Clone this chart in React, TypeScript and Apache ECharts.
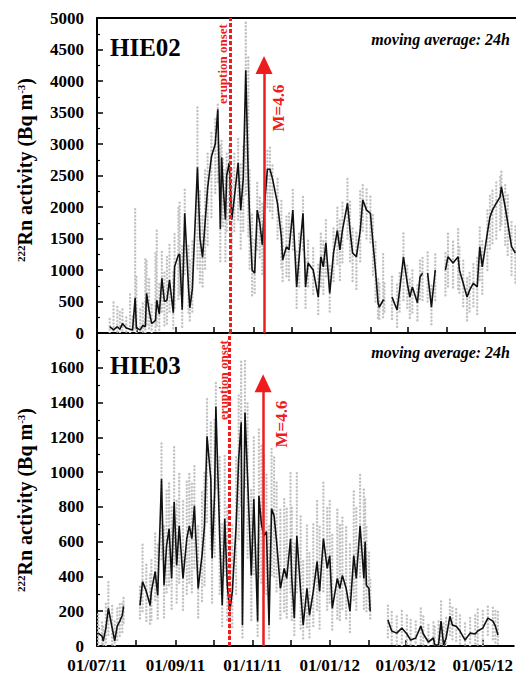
import React, { useEffect, useRef } from 'react';
import * as echarts from 'echarts';

// ---- time frame: the x axis counts days from 1 July 2011 ---------------
const DAY = 86400000;
const START = Date.UTC(2011, 6, 1);
const END_DAY = 329.5;

// sampling days are counted from 1 July 2011; null marks a data gap
// HIE02: 24h moving average and spread of hourly values (Bq m-3)
const hie02Day = [10,13,16,18,20,23,26,28,30,31,34,36,38,39,41,43,46,47,49,51,53,55,57,60,61,64,65,67,69,72,73,75,79,81,83,85,87,90,93,95,97,98,99,101,102,104,106,108,111,113,115,117,119,120,122,124,126,128,130,132,134,136,138,142,145,146,149,151,154,157,159,162,164,166,170,174,176,178,180,183,186,189,191,193,197,199,201,204,207,209,212,215,217,219,221,222,225,226,228,232,236,238,241,244,246,248,252,254,256,258,260,263,266,270,274,276,280,284,285,288,291,293,296,299,301,303,307,309,311,314,317,318,321,323,326,329];
const hie02Avg = [100,50,100,60,150,80,60,50,560,80,50,120,100,630,350,150,200,520,300,870,500,520,840,320,1050,1240,1250,370,1900,700,400,700,2630,1500,1200,1750,2300,2800,3000,3550,1650,2790,2400,1800,2500,2700,1800,2150,2700,1950,2450,4170,2450,1850,1000,950,1950,1750,1400,2100,2600,2600,2450,2050,1520,1160,1370,1320,1950,730,1210,1900,730,1110,1000,570,1210,1050,1430,630,1270,1630,1320,1630,2060,1630,1270,1210,1630,2110,1950,1900,1430,1000,480,410,520,520,null,570,365,680,1210,790,570,730,480,890,950,null,950,410,1000,null,1000,1210,1110,1210,1000,790,570,680,790,730,1370,1050,1590,1840,1950,2060,2160,2320,2000,1750,1370,1270];
const hie02Lo = [0,0,0,0,0,0,0,0,50,0,0,0,0,100,50,0,0,100,50,300,100,150,300,50,400,500,600,100,900,300,200,300,1000,800,700,1000,1400,1800,2200,2400,1100,1800,1700,1100,1600,1800,1000,1600,1800,1300,1600,2200,1500,1000,600,600,1300,1200,900,1500,2000,1900,1800,1500,1000,800,900,800,1300,400,700,1300,400,700,600,300,700,600,900,300,800,1100,800,1100,1500,1100,800,700,1100,1600,1500,1400,900,500,200,200,250,300,null,200,100,300,500,400,200,300,200,500,500,null,500,100,500,null,600,700,700,700,600,400,200,300,400,300,800,600,1000,1300,1400,1500,1600,1700,1400,1200,900,800];
const hie02Hi = [250,500,450,350,400,300,620,300,1980,900,400,500,1200,1150,900,450,1300,1670,800,1300,1000,1250,1400,1000,1600,2000,2100,1400,2300,1400,1200,1500,3600,2300,1900,2600,2900,3200,3400,3650,3000,3100,2800,2600,2900,3000,2600,2900,3100,2700,3000,4950,4400,2600,1900,1500,2400,2200,2100,2500,2900,2950,2700,2500,2100,1700,1900,1900,2300,1300,1600,2200,1200,1500,1400,1100,1600,1500,1800,1100,1700,2000,1800,2100,2500,2100,1700,1600,2300,2400,2300,2200,1900,1500,900,800,1300,800,null,900,800,1000,1600,1100,900,1000,800,1200,1200,null,1300,800,1300,null,1300,1600,1500,1700,1400,1200,900,1000,1100,1200,1700,1500,2000,2200,2300,2400,2500,2600,2400,2200,1800,1700];

// HIE03: 24h moving average and spread of hourly values (Bq m-3)
const hie03Day = [1,4,5,7,9,12,14,16,18,20,21,27,34,36,39,42,43,46,48,51,53,55,57,59,61,63,65,68,71,73,75,77,80,83,85,87,90,91,93,94,97,99,101,103,105,107,110,112,114,115,117,119,122,124,127,128,130,132,134,136,138,140,142,145,148,150,153,154,156,158,161,163,166,168,171,174,176,179,182,184,186,190,192,194,197,200,203,205,208,211,212,213,215,216,222,230,233,237,241,245,248,252,256,258,262,266,267,270,272,274,276,279,281,284,287,291,295,299,301,305,309,313,315,317];
const hie03Avg = [74,57,29,103,217,103,29,114,143,177,228,null,234,371,314,234,314,428,291,960,349,577,674,389,829,463,691,389,617,691,617,806,331,520,691,1206,960,503,886,1377,634,234,731,349,200,314,691,1074,1286,120,1343,977,406,846,143,863,700,634,657,120,789,749,600,331,446,389,617,389,160,634,314,120,331,177,314,486,314,617,446,520,217,389,331,406,331,200,520,389,691,389,600,349,331,200,null,149,86,74,103,69,34,46,114,69,23,46,6,6,143,6,46,171,120,114,86,34,74,69,86,103,160,143,114,63];
const hie03Lo = [0,0,0,0,50,0,0,20,50,80,120,null,150,200,130,120,150,250,150,500,150,300,350,200,450,250,350,200,300,350,300,450,150,250,350,700,550,250,500,900,300,100,400,150,50,100,300,600,800,50,900,500,150,400,50,400,350,300,300,30,400,400,300,150,200,150,300,150,50,300,100,30,100,50,100,200,100,300,200,250,80,150,150,200,150,80,250,200,400,200,350,200,200,150,null,50,0,0,0,0,0,0,0,0,0,0,0,0,0,0,0,50,30,30,0,0,0,0,0,0,50,30,20,0];
const hie03Hi = [200,150,120,250,370,250,150,230,250,250,280,null,350,600,480,420,500,650,600,1170,700,900,950,800,1150,850,1000,850,950,1000,950,1050,700,900,1000,1430,1300,850,1300,1520,1100,700,1100,800,600,700,1100,1450,1640,800,1640,1400,900,1200,600,1250,1150,1100,1000,700,1150,1100,950,800,850,800,1000,800,600,1000,750,500,700,550,700,850,700,950,800,850,650,800,700,750,700,600,900,800,1000,900,850,700,550,400,null,250,200,180,220,180,150,160,230,170,140,150,120,160,260,130,180,270,230,220,190,140,170,180,210,220,230,230,220,200];

// axis ticks (monthly) and labelled dates (every second month)
const tickDates = ['2011-07-01','2011-08-01','2011-09-01','2011-10-01','2011-11-01','2011-12-01','2012-01-01','2012-02-01','2012-03-01','2012-04-01','2012-05-01'];
const labelDates = ['2011-07-01','2011-09-01','2011-11-01','2012-01-01','2012-03-01','2012-05-01'];

// events
const eruptionOnset = '2011-10-13T12:00:00Z';
const quakeM46 = '2011-11-09T08:00:00Z';
const arrowTopHie02 = 4254;
const arrowTopHie03 = 1511;

const FONT = '"Liberation Serif", "Times New Roman", serif';
const RED = '#ee1c1c';
const GRAY = '#c2c2c2';

const ts = (s: string) => Date.parse(s.length === 10 ? s + 'T00:00:00Z' : s);
const dayOf = (s: string) => (ts(s) - START) / DAY;
const pad = (n: number) => (n < 10 ? '0' : '') + n;
const fmtDay = (v: number) => {
  const d = new Date(START + Math.round(v) * DAY);
  return pad(d.getUTCDate()) + '/' + pad(d.getUTCMonth() + 1) + '/' + pad(d.getUTCFullYear() % 100);
};

const lineData = (days: number[], avg: (number | null)[]) =>
  days.map((d, i) => [d, avg[i] === null ? '-' : avg[i]]);
const spreadData = (days: number[], lo: (number | null)[], hi: (number | null)[]) =>
  days
    .map((d, i) => [d, lo[i], hi[i]])
    .filter((r) => r[1] !== null && r[2] !== null);

// hourly values of each sampling day, drawn as a column of grey dots;
// the dash phase alternates between neighbouring columns
const renderSpread = (params: any, api: any) => {
  const t = api.value(0);
  const p1 = api.coord([t, api.value(1)]);
  const p2 = api.coord([t, api.value(2)]);
  return {
    type: 'line',
    silent: true,
    shape: { x1: p1[0], y1: p1[1], x2: p2[0], y2: p2[1] },
    style: {
      stroke: GRAY,
      lineWidth: 2.4,
      lineDash: [0.1, 3.4],
      lineDashOffset: (params.dataIndex % 3) * 1.15,
      lineCap: 'round',
    },
  };
};

const axisLabelStyle = { color: '#000', fontFamily: FONT, fontWeight: 'bold' as const, fontSize: 17 };
const axisLineStyle = { show: true, onZero: false, lineStyle: { color: '#000', width: 2 } };

const dayAxisBase = {
  type: 'value' as const,
  min: 0,
  max: END_DAY,
  splitLine: { show: false },
  axisLine: axisLineStyle,
  axisTick: {
    show: true,
    inside: true,
    length: 6,
    customValues: tickDates.map(dayOf),
    lineStyle: { color: '#000', width: 1.5 },
  },
};

const markers = (arrowTop: number) => ({
  silent: true,
  symbol: 'none',
  animation: false,
  label: { show: false },
  emphasis: { disabled: true },
  lineStyle: { color: RED, width: 2.5, type: 'solid' },
  data: [
    { xAxis: dayOf(eruptionOnset), lineStyle: { color: RED, width: 3, type: [4, 2] } },
    [
      { coord: [dayOf(quakeM46), 0], symbol: 'none', lineStyle: { color: RED, width: 2.5, type: 'solid' } },
      { coord: [dayOf(quakeM46), arrowTop], symbol: 'triangle', symbolSize: [17, 18] },
    ],
  ],
});

const yTitle = (y: number) => ({
  type: 'text',
  x: 25,
  y,
  rotation: Math.PI / 2,
  style: {
    text: '{s|222}Rn activity (Bq m{s|-3})',
    fill: '#000',
    fontFamily: FONT,
    fontWeight: 'bold',
    fontSize: 20,
    textAlign: 'center',
    textVerticalAlign: 'middle',
    rich: {
      s: { fontSize: 11, fontFamily: FONT, fontWeight: 'bold', verticalAlign: 'top', fill: '#000' },
    },
  },
});

const txt = (text: string, x: number, y: number, size: number, extra: any = {}) => ({
  type: 'text',
  x,
  y,
  rotation: extra.rotation || 0,
  style: {
    text,
    fill: extra.fill || '#000',
    fontFamily: FONT,
    fontWeight: 'bold',
    fontStyle: extra.italic ? 'italic' : 'normal',
    fontSize: size,
    textAlign: extra.align || 'left',
    textVerticalAlign: 'middle',
  },
});

const valueAxis = (gridIndex: number, max: number, interval: number, hideMax: boolean) => ({
  type: 'value',
  gridIndex,
  min: 0,
  max,
  interval,
  axisLine: axisLineStyle,
  axisTick: { show: true, inside: true, length: 6, lineStyle: { color: '#000', width: 1.5 } },
  minorTick: { show: true, splitNumber: 2, length: 3, lineStyle: { color: '#000', width: 1.2 } },
  splitLine: { show: false },
  axisLabel: { ...axisLabelStyle, margin: 13, showMaxLabel: !hideMax, formatter: (v: number) => String(v) },
});

const option: any = {
  animation: false,
  backgroundColor: '#fff',
  grid: [
    { left: 97, top: 18, width: 419, height: 315 },
    { left: 97, top: 333, width: 419, height: 315 },
  ],
  xAxis: [
    { ...dayAxisBase, gridIndex: 0, position: 'bottom', axisLabel: { show: false } },
    {
      type: 'value', gridIndex: 0, position: 'top', min: 0, max: END_DAY,
      axisLine: axisLineStyle, axisTick: { show: false }, axisLabel: { show: false }, splitLine: { show: false },
    },
    {
      ...dayAxisBase,
      gridIndex: 1,
      position: 'bottom',
      axisLabel: {
        ...axisLabelStyle,
        margin: 11,
        customValues: labelDates.map(dayOf),
        formatter: (v: number) => fmtDay(v),
      },
    },
  ],
  yAxis: [valueAxis(0, 5000, 500, false), valueAxis(1, 1800, 200, true)],
  series: [
    {
      name: 'HIE02 hourly', type: 'custom', xAxisIndex: 0, yAxisIndex: 0, clip: true,
      renderItem: renderSpread, encode: { x: 0, y: [1, 2] },
      data: spreadData(hie02Day, hie02Lo, hie02Hi), z: 1,
    },
    {
      name: 'HIE02 24h', type: 'line', xAxisIndex: 0, yAxisIndex: 0,
      data: lineData(hie02Day, hie02Avg), showSymbol: false, connectNulls: false,
      lineStyle: { color: '#111', width: 1.6 }, z: 2,
      markLine: markers(arrowTopHie02),
    },
    {
      name: 'HIE03 hourly', type: 'custom', xAxisIndex: 2, yAxisIndex: 1, clip: true,
      renderItem: renderSpread, encode: { x: 0, y: [1, 2] },
      data: spreadData(hie03Day, hie03Lo, hie03Hi), z: 1,
    },
    {
      name: 'HIE03 24h', type: 'line', xAxisIndex: 2, yAxisIndex: 1,
      data: lineData(hie03Day, hie03Avg), showSymbol: false, connectNulls: false,
      lineStyle: { color: '#111', width: 1.6 }, z: 2,
      markLine: markers(arrowTopHie03),
    },
  ],
  graphic: [
    yTitle(170),
    yTitle(500),
    txt('HIE02', 110, 47, 25),
    txt('HIE03', 110, 365, 25),
    txt('moving average: 24h', 510, 39, 16, { italic: true, align: 'right' }),
    txt('moving average: 24h', 510, 352, 16, { italic: true, align: 'right' }),
    txt('eruption onset', 222, 64, 13, { fill: RED, rotation: Math.PI / 2, align: 'center' }),
    txt('eruption onset', 223, 380, 13, { fill: RED, rotation: Math.PI / 2, align: 'center' }),
    txt('M=4.6', 278, 108, 17, { fill: RED, rotation: Math.PI / 2, align: 'center' }),
    txt('M=4.6', 281, 424, 17, { fill: RED, rotation: Math.PI / 2, align: 'center' }),
  ],
};

export default function App() {
  const ref = useRef<HTMLDivElement>(null);
  useEffect(() => {
    const chart = echarts.init(ref.current!, null, { renderer: 'svg' });
    chart.setOption(option);
    return () => chart.dispose();
  }, []);
  return (
    <div
      ref={ref}
      style={{ position: 'fixed', left: 0, top: 0, width: 516, height: 674, background: '#fff' }}
    />
  );
}
